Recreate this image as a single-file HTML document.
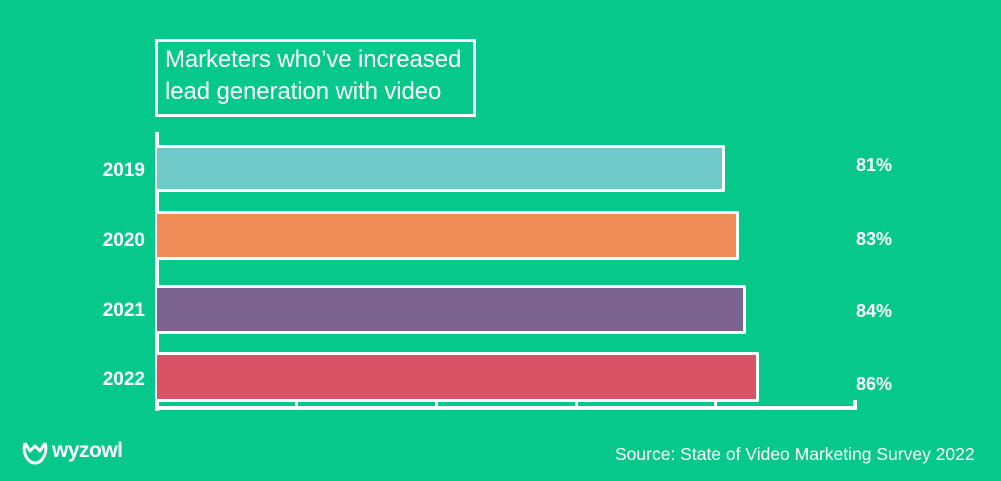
<!DOCTYPE html>
<html><head><meta charset="utf-8"><style>
body{margin:0;width:1001px;height:481px;background:#05C88A;overflow:hidden;position:relative;font-family:"Liberation Sans",sans-serif;color:#fff}
.t{position:absolute;left:155px;top:39px;width:308px;height:70px;border:3px solid #fff;font-size:24px;line-height:32px;padding:2px 0 0 7px;box-sizing:content-box;letter-spacing:-0.1px;white-space:nowrap}
.bar{position:absolute;left:157px;border:3px solid #fff;border-left:none;border-radius:0 2px 2px 0}
.y{position:absolute;width:145px;left:0;text-align:right;font-weight:bold;font-size:19px}
.p{position:absolute;left:856px;font-weight:bold;font-size:18px}
.l{position:absolute;background:#fff}
</style></head><body>
<div class="t">Marketers who’ve increased<br>lead generation with video</div>
<div class="l" style="left:155px;top:132px;width:4px;height:279px"></div>
<div class="l" style="left:155px;top:406px;width:702px;height:4px"></div>
<div class="l" style="left:295px;top:400px;width:3px;height:8px"></div>
<div class="l" style="left:435px;top:400px;width:3px;height:8px"></div>
<div class="l" style="left:575px;top:400px;width:3px;height:8px"></div>
<div class="l" style="left:714px;top:400px;width:3px;height:8px"></div>
<div class="l" style="left:853px;top:400px;width:4px;height:10px"></div>
<div class="bar" style="top:145px;width:565px;height:41px;background:#6FC9C9"></div>
<div class="bar" style="top:211px;width:579px;height:43px;background:#F08C57"></div>
<div class="bar" style="top:285px;width:586px;height:43px;background:#7D6390"></div>
<div class="bar" style="top:352px;width:599px;height:44px;background:#DA5265"></div>
<div class="y" style="top:160px">2019</div>
<div class="y" style="top:230px">2020</div>
<div class="y" style="top:300px">2021</div>
<div class="y" style="top:369px">2022</div>
<div class="p" style="top:155px">81%</div>
<div class="p" style="top:229px">83%</div>
<div class="p" style="top:301px">84%</div>
<div class="p" style="top:374px">86%</div>
<svg style="position:absolute;left:22px;top:441px" width="30" height="26" viewBox="0 0 30 26"><path d="M3 2 L8 10 L13 5 L18 10 L23 2 M3 2 C0 12,6 22,13 22 C20 22,26 12,23 2" fill="none" stroke="#fff" stroke-width="3" stroke-linejoin="round"/></svg>
<div style="position:absolute;left:52px;top:439px;font-weight:bold;font-size:21px;letter-spacing:-0.5px">wyzowl</div>
<div style="position:absolute;left:615px;top:444px;font-size:17.5px">Source: State of Video Marketing Survey 2022</div>
</body></html>
